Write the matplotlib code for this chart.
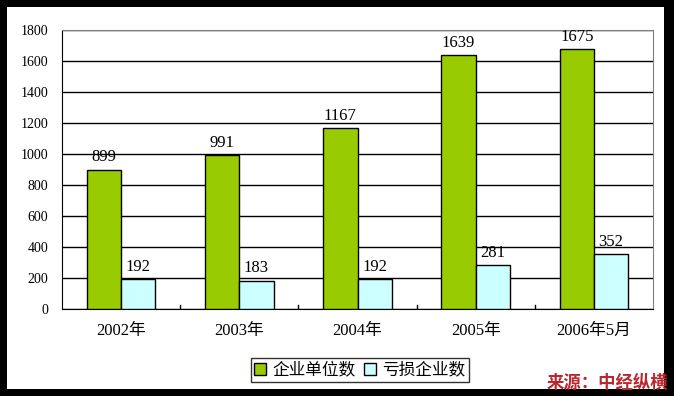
import matplotlib
matplotlib.use("Agg")
import matplotlib.pyplot as plt
from matplotlib.patches import Rectangle
import numpy as np

plt.rcParams['font.family'] = ['Noto Sans CJK SC', 'DejaVu Sans']
SERIF = ["Liberation Serif", "Noto Sans CJK SC", "DejaVu Sans"]

categories = ["2002年", "2003年", "2004年", "2005年", "2006年5月"]
enterprises = [899, 991, 1167, 1639, 1675]
loss_making = [192, 183, 192, 281, 352]
series_names = ["企业单位数", "亏损企业数"]

fig = plt.figure(figsize=(6.74, 3.96), dpi=100)
fig.patch.set_facecolor("black")
fig.patches.append(Rectangle((7 / 674, 7 / 396), 657 / 674, 382 / 396,
                             transform=fig.transFigure, facecolor="white",
                             edgecolor="none", zorder=-10))

ax = fig.add_axes([62 / 674, 87 / 396, 591 / 674, 279 / 396])
ax.set_facecolor("white")

x = np.arange(len(categories))
w = 0.29
b1 = ax.bar(x - w / 2, enterprises, w, color="#99CC00", edgecolor="black",
            linewidth=1, label=series_names[0], zorder=3)
b2 = ax.bar(x + w / 2, loss_making, w, color="#CCFFFF", edgecolor="black",
            linewidth=1, label=series_names[1], zorder=3)

for bars, vals in ((b1, enterprises), (b2, loss_making)):
    for r, v in zip(bars, vals):
        ax.annotate(str(v), (r.get_x() + r.get_width() / 2, v),
                    xytext=(0, 3), textcoords="offset points",
                    ha="center", va="bottom", fontsize=12, family=SERIF)

ax.set_xlim(-0.5, len(categories) - 0.5)
ax.set_ylim(0, 1800)
ax.set_yticks(range(0, 1801, 200))
ax.yaxis.grid(True, color="black", linewidth=1)
ax.set_axisbelow(True)
ax.tick_params(axis="y", length=0, pad=10, labelsize=10)
for lab in ax.get_yticklabels():
    lab.set_family(SERIF)

ax.set_xticks(x)
ax.set_xticklabels(categories, fontsize=12, family=SERIF)
ax.tick_params(axis="x", length=0, pad=10)
for b in np.arange(0.5, len(categories) - 1, 1.0):
    ax.plot([b, b], [0, 28], color="black", linewidth=1, zorder=4)

ax.spines["left"].set_color("black")
ax.spines["bottom"].set_color("black")
ax.spines["top"].set_color("#808080")
ax.spines["right"].set_color("#808080")

leg = fig.legend(handles=[b1, b2], loc="center", ncol=2,
                 bbox_to_anchor=(360 / 674, 1 - 370 / 396), fontsize=12,
                 frameon=True, fancybox=False, edgecolor="black",
                 handlelength=0.7, handleheight=0.7, handletextpad=0.4,
                 columnspacing=0.5, borderpad=0.2, borderaxespad=0)
leg.get_frame().set_linewidth(1)

fig.text(668 / 674, 1 - 383 / 396, "来源：中经纵横", ha="right", va="center",
         fontsize=12.5, fontweight="bold", style="italic", color="#B8282E")

fig.savefig("out.png", dpi=100, facecolor=fig.get_facecolor())
